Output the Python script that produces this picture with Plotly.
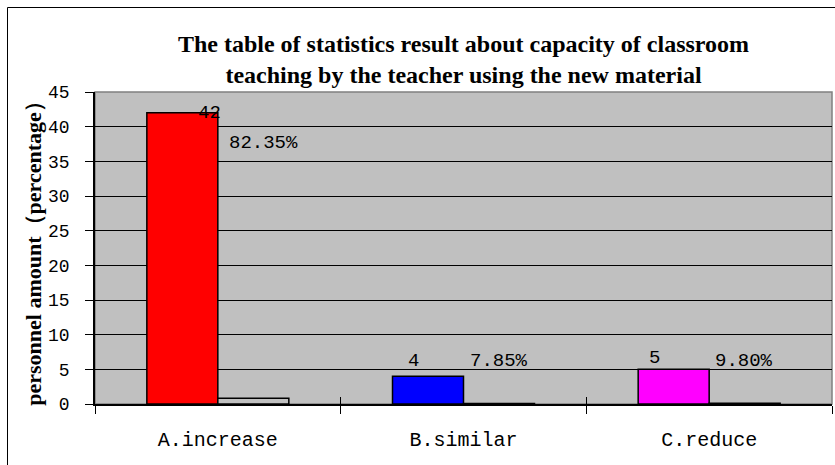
import plotly.graph_objects as go

categories = ["A.increase", "B.similar", "C.reduce"]
counts = [42, 4, 5]
percent_values = [0.8235, 0.0785, 0.0980]
percent_labels = ["82.35%", "7.85%", "9.80%"]
count_colors = ["#FF0000", "#0000FF", "#FF00FF"]
y_ticks = [0, 5, 10, 15, 20, 25, 30, 35, 40, 45]

title_text = ("The table of statistics result about capacity of classroom<br>"
              "teaching by the teacher using the new material")
y_title = "personnel amount（percentage）"

mono = "Liberation Mono"
serif = "Liberation Serif"

fig = go.Figure()
fig.add_trace(go.Bar(
    x=categories, y=counts, marker=dict(color=count_colors, line=dict(color="black", width=1.5)),
    showlegend=False, hoverinfo="skip"))
fig.add_trace(go.Bar(
    x=categories, y=percent_values, marker=dict(color="#C0C0C0", line=dict(color="black", width=1.5)),
    showlegend=False, hoverinfo="skip"))
# helper trace for inner x ticks
fig.add_trace(go.Scatter(x=categories, y=counts, xaxis="x2", mode="none",
                         showlegend=False, hoverinfo="skip"))

# label offsets (pixels) relative to category centre / count value
count_offsets = [(-8, 0), (-50, 15), (-55, 11)]
pct_offsets = [(9, -30), (4, 15), (4, 8)]
annotations = []
for i, c in enumerate(categories):
    dx, dy = count_offsets[i]
    annotations.append(dict(x=c, y=counts[i], text=str(counts[i]), showarrow=False,
                            xanchor="center", yanchor="middle", xshift=dx, yshift=dy,
                            font=dict(family=mono, size=19, color="black")))
    dx, dy = pct_offsets[i]
    annotations.append(dict(x=c, y=counts[i], text=percent_labels[i], showarrow=False,
                            xanchor="left", yanchor="middle", xshift=dx, yshift=dy,
                            font=dict(family=mono, size=19, color="black")))

fig.update_layout(
    width=835, height=465,
    margin=dict(l=95, r=3, t=92, b=61),
    paper_bgcolor="white", plot_bgcolor="#C0C0C0",
    barmode="group", bargap=0.422, bargroupgap=0,
    title=dict(text=title_text, x=0.5, xanchor="center", xref="paper",
               y=1 - 52 / 465, yanchor="middle",
               font=dict(family=serif, size=24, color="black", weight="bold")),
    xaxis=dict(type="category", tickson="boundaries", ticks="outside", ticklen=8,
               tickcolor="black", tickwidth=1, showline=True, linecolor="black", linewidth=1.5,
               showgrid=False, tickfont=dict(family=mono, size=20, color="black"),
               ticklabelstandoff=16),
    xaxis2=dict(type="category", matches="x", overlaying="x", tickson="boundaries",
                ticks="inside", ticklen=7, tickcolor="black", tickwidth=1,
                showticklabels=False, showgrid=False, showline=False, side="bottom"),
    yaxis=dict(range=[0, 45], tickvals=y_ticks, ticks="outside", ticklen=8, tickcolor="black",
               showline=True, linecolor="black", linewidth=1.5, showgrid=True,
               gridcolor="black", gridwidth=1, zeroline=False,
               tickfont=dict(family=mono, size=18, color="black"), ticklabelstandoff=12,
               title=dict(text=y_title, standoff=0,
                          font=dict(family=serif, size=22, color="black", weight="bold"))),
    annotations=annotations,
    shapes=[
        dict(type="rect", xref="paper", yref="paper", x0=0, x1=1, y0=0, y1=1,
             line=dict(color="#808080", width=1.5), layer="below"),
        dict(type="rect", xref="paper", yref="paper",
             x0=(7.5 - 95) / 737, x1=1.2, y0=-0.5, y1=1 + (92 - 7.5) / 312,
             line=dict(color="black", width=1)),
    ],
)

fig.write_html("out.html")
